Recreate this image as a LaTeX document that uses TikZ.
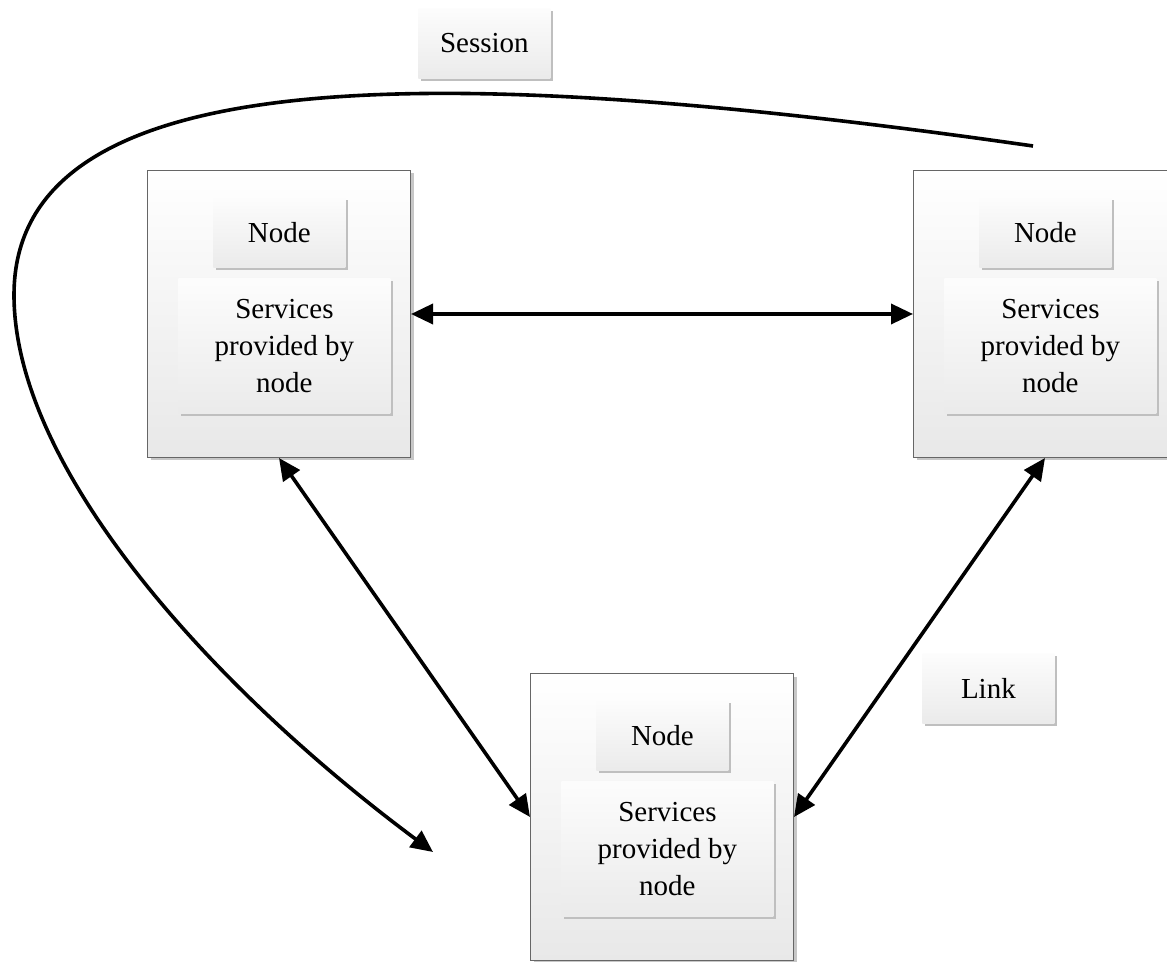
\documentclass[tikz,border=0pt]{standalone}
\usepackage{fontspec}
\setmainfont{Liberation Serif}
\usetikzlibrary{arrows.meta,shadows}
\begin{document}
\begin{tikzpicture}[x=0.5pt,y=-0.5pt,
  font=\fontsize{14.5pt}{18.5pt}\selectfont,
  outerbox/.style={draw=black!60, line width=0.5pt, top color=white, bottom color=black!9,
    anchor=north west, minimum width=131.5pt, minimum height=143.5pt, inner sep=0pt,
    drop shadow={shadow xshift=1.5pt, shadow yshift=-1.5pt, fill=black!22, opacity=1}},
  innerbox/.style={top color=black!1, bottom color=black!8, anchor=north west,
    inner sep=0pt, align=center,
    drop shadow={shadow xshift=1.5pt, shadow yshift=-1.5pt, fill=black!25, opacity=1}},
  labelbox/.style={innerbox, minimum width=66pt, minimum height=35pt},
  servbox/.style={innerbox, minimum width=106pt, minimum height=67.5pt},
  link/.style={line width=1.8pt, {Triangle[length=11pt,width=10pt]}-{Triangle[length=11pt,width=10pt]}},
  sessionline/.style={line width=1.8pt, -{Triangle[length=11pt,width=10pt]}}
]
\useasboundingbox (0,0) rectangle (1167,962);
% left station
\node[outerbox] (b1) at (147,170) {};
\node[labelbox] (n1) at (213,197) {Node};
\node[servbox] (s1) at (178,278) {Services\\provided by\\node};
% right station
\node[outerbox] (b2) at (913,170) {};
\node[labelbox] (n2) at (979,197) {Node};
\node[servbox] (s2) at (944,278) {Services\\provided by\\node};
% bottom station
\node[outerbox] (b3) at (530,673) {};
\node[labelbox] (n3) at (596,700) {Node};
\node[servbox] (s3) at (561,781) {Services\\provided by\\node};
% labels
\node[labelbox] (session) at (418,8) {Session};
\node[labelbox] (linklbl) at (922,653) {Link};
% links
\draw[link] (b1.east) -- (b2.west);
\draw[link] (b1.south) -- (b3.west);
\draw[link] (b2.south) -- (b3.east);
% session curve
\coordinate (cs) at (1033,146);
\coordinate (ce) at (433,852);
\draw[sessionline] (cs) .. controls (433,60) and (14,60) .. (14,295)
  .. controls (14,470) and (215,690) .. (ce);
\end{tikzpicture}
\end{document}
